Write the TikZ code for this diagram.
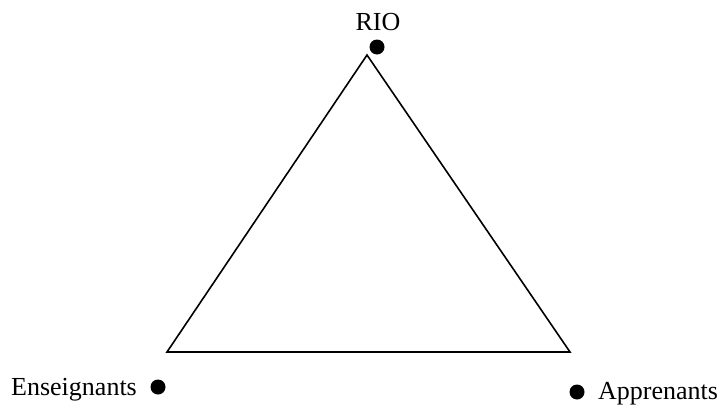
\documentclass[tikz,border=0pt]{standalone}
\usepackage{fontspec}
\setmainfont{Liberation Serif}
\begin{document}
\begin{tikzpicture}[x=1pt,y=-1pt,
  lbl/.style={font=\fontsize{26}{31}\selectfont, inner sep=0pt},
  dot/.style={circle, fill=black, minimum size=15pt, inner sep=0pt},
  edge/.style={line width=1.6pt, line join=miter}]
  \useasboundingbox (0,0) rectangle (720,407);
  \coordinate (top) at (367,55);
  \coordinate (bl) at (167,352);
  \coordinate (br) at (570,352);
  \draw[edge] (top) -- (bl) -- (br) -- cycle;
  \node[dot] (dtop) at (377,47) {};
  \node[dot] (dleft) at (158,387) {};
  \node[dot] (dright) at (577,392) {};
  \node[lbl, anchor=base] (rio) at (378,30) {RIO};
  \node[lbl, anchor=base west] (ens) at (11,395) {Enseignants};
  \node[lbl, anchor=base west] (app) at (598,399) {Apprenants};
\end{tikzpicture}
\end{document}
